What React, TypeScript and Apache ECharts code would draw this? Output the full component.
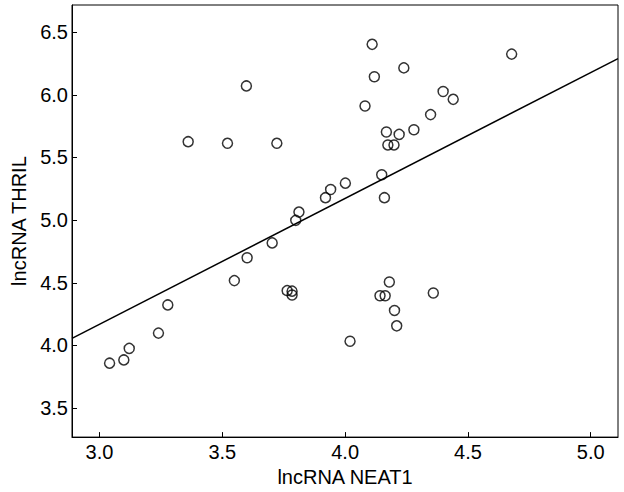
import React, { useEffect, useRef } from "react";
import * as echarts from "echarts";

const neat1 = [
  3.041, 3.099, 3.121, 3.24, 3.278, 3.361, 3.521, 3.598, 3.549, 3.601,
  3.722, 3.703, 3.764, 3.784, 3.784, 3.799, 3.812, 3.92, 3.941, 4.001,
  4.02, 4.081, 4.11, 4.119, 4.149, 4.16, 4.168, 4.174, 4.199, 4.22,
  4.239, 4.28, 4.348, 4.399, 4.44, 4.678, 4.18, 4.142, 4.163, 4.201,
  4.21, 4.359,
];
const thril = [
  3.858, 3.884, 3.976, 4.098, 4.323, 5.626, 5.613, 6.071, 4.517, 4.7,
  5.613, 4.818, 4.437, 4.433, 4.402, 4.998, 5.064, 5.179, 5.244, 5.295,
  4.033, 5.911, 6.403, 6.144, 5.362, 5.179, 5.703, 5.6, 5.6, 5.684,
  6.215, 5.721, 5.842, 6.027, 5.964, 6.325, 4.506, 4.396, 4.396, 4.279,
  4.156, 4.418,
];
const xTicks = [3.0, 3.5, 4.0, 4.5, 5.0];
const yTicks = [3.5, 4.0, 4.5, 5.0, 5.5, 6.0, 6.5];
const xRange = [2.888, 5.111];
const yRange = [3.268, 6.717];
const fitSlope = 1.005;
const fitIntercept = 1.153;
const xName = "lncRNA NEAT1";
const yName = "lncRNA THRIL";

const FONT = "'Liberation Sans', Arial, sans-serif";

export default function App() {
  const ref = useRef<HTMLDivElement>(null);
  useEffect(() => {
    document.body.style.margin = "0";
    if (!ref.current) return;
    const chart = echarts.init(ref.current, undefined, { renderer: "svg" });
    const points = neat1.map((x, i) => [x, thril[i]]);
    const fit = xRange.map((x) => [x, fitIntercept + fitSlope * x]);
    chart.setOption({
      animation: false,
      backgroundColor: "#fff",
      textStyle: { fontFamily: FONT },
      grid: {
        left: 72,
        right: 6,
        top: 5,
        bottom: 47,
        show: true,
        borderColor: "#000",
        borderWidth: 1,
        backgroundColor: "transparent",
      },
      xAxis: {
        type: "value",
        min: xRange[0],
        max: xRange[1],
        name: xName,
        nameLocation: "middle",
        nameGap: 24,
        nameTextStyle: { color: "#000", fontSize: 20, fontFamily: FONT },
        axisLine: { show: true, lineStyle: { color: "#000", width: 1 } },
        axisTick: {
          show: true,
          inside: true,
          length: 5,
          customValues: xTicks,
          lineStyle: { color: "#000", width: 1 },
        },
        axisLabel: {
          customValues: xTicks,
          color: "#000",
          fontSize: 20,
          fontFamily: FONT,
          margin: 5,
          formatter: (v: number) => v.toFixed(1),
        },
        splitLine: { show: false },
      },
      yAxis: {
        type: "value",
        min: yRange[0],
        max: yRange[1],
        name: yName,
        nameLocation: "middle",
        nameRotate: 90,
        nameGap: 38,
        nameTextStyle: { color: "#000", fontSize: 20, fontFamily: FONT },
        axisLine: { show: true, lineStyle: { color: "#000", width: 1 } },
        axisTick: {
          show: true,
          inside: true,
          length: 5,
          customValues: yTicks,
          lineStyle: { color: "#000", width: 1 },
        },
        axisLabel: {
          customValues: yTicks,
          color: "#000",
          fontSize: 20,
          fontFamily: FONT,
          margin: 4,
          formatter: (v: number) => v.toFixed(1),
        },
        splitLine: { show: false },
      },
      series: [
        {
          type: "line",
          data: fit,
          showSymbol: false,
          symbol: "none",
          lineStyle: { color: "#000", width: 1.5 },
          silent: true,
          z: 1,
        },
        {
          type: "scatter",
          data: points,
          symbol: "circle",
          symbolSize: 10,
          itemStyle: { color: "transparent", borderColor: "#000", borderWidth: 1.5 },
          z: 2,
        },
      ],
    });
    return () => chart.dispose();
  }, []);
  return <div ref={ref} style={{ width: 624, height: 492 }} />;
}
